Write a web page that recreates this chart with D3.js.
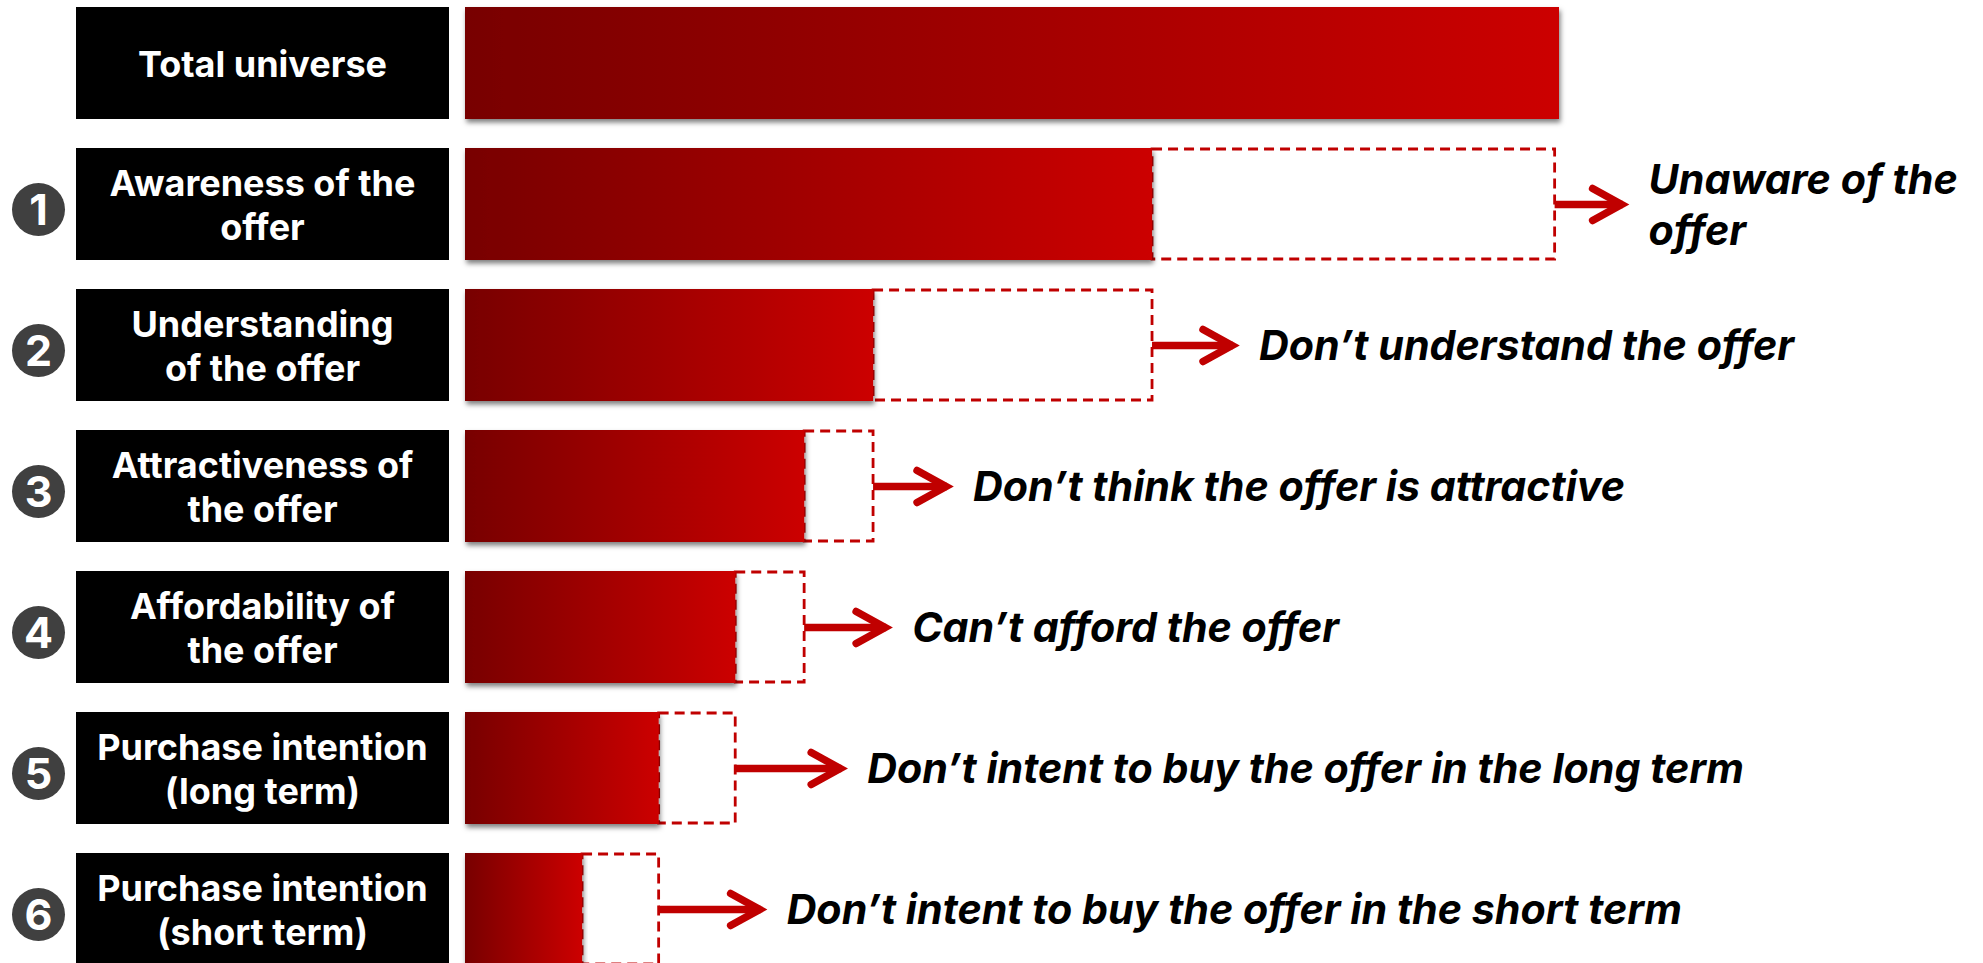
<!DOCTYPE html>
<html>
<head>
<meta charset="utf-8">
<style>
  html, body { margin: 0; padding: 0; background: #fff; }
  svg { display: block; }
  text { font-family: Inter, Lato, sans-serif; font-weight: 700; }
</style>
<script src="https://cdnjs.cloudflare.com/ajax/libs/d3/7.8.5/d3.min.js"></script>
</head>
<body>
<svg id="funnel" width="1983" height="963"></svg>
<script>
// Funnel stages, as a share of the total universe
const stages = [
  ["Total universe"],
  ["Awareness of the", "offer"],
  ["Understanding", "of the offer"],
  ["Attractiveness of", "the offer"],
  ["Affordability of", "the offer"],
  ["Purchase intention", "(long term)"],
  ["Purchase intention", "(short term)"]
];
const remaining = [100, 62.8, 37.3, 31.0, 24.7, 17.7, 10.7];
const lostFrom = [null, 99.6, 62.8, 37.3, 31.0, 24.7, 17.7];
const lostLabels = [
  null,
  ["Unaware of the", "offer"],
  ["Don\u2019t understand the offer"],
  ["Don\u2019t think the offer is attractive"],
  ["Can\u2019t afford the offer"],
  ["Don\u2019t intent to buy the offer in the long term"],
  ["Don\u2019t intent to buy the offer in the short term"]
];
const markers = ["", "1", "2", "3", "4", "5", "6"];

// Layout
const rowStep = 141, rowHeight = 112, firstRow = 7;
const rowBand = d3.scaleLinear().domain([0, 1]).range([firstRow, firstRow + rowStep]);
const x = d3.scaleLinear().domain([0, 100]).range([465, 1559]);
const arrowLengths = [0, 73, 86, 79, 87, 111, 107];
const labelGap = 21;
const red = "#c00000";

const svg = d3.select("#funnel");
const defs = svg.append("defs");

const grad = defs.append("linearGradient").attr("id", "barFill");
grad.append("stop").attr("offset", 0).attr("stop-color", "#780000");
grad.append("stop").attr("offset", 1).attr("stop-color", "#cc0000");

const shadow = defs.append("filter").attr("id", "barShadow")
  .attr("x", "-5%").attr("y", "-10%").attr("width", "110%").attr("height", "125%");
shadow.append("feDropShadow")
  .attr("dx", 1.5).attr("dy", 3.5).attr("stdDeviation", 2.5)
  .attr("flood-color", "#000").attr("flood-opacity", 0.5);

const rows = stages.map((lines, i) => ({
  lines, i,
  value: remaining[i],
  from: lostFrom[i],
  label: lostLabels[i],
  marker: markers[i],
  top: rowBand(i)
}));

const row = svg.selectAll("g.row").data(rows).join("g").attr("class", "row");

// Black stage name boxes
row.append("rect")
  .attr("x", 76).attr("width", 373)
  .attr("y", d => d.top).attr("height", rowHeight)
  .attr("fill", "#000");

row.append("text")
  .attr("text-anchor", "middle")
  .attr("fill", "#fff")
  .attr("font-size", 36)
  .selectAll("tspan").data(d => d.lines.map((t, k) => ({ t, k, d }))).join("tspan")
  .attr("x", 262.5)
  .attr("y", p => p.d.top + rowHeight / 2 + 14 + (p.k - (p.d.lines.length - 1) / 2) * 44.5)
  .text(p => p.t);

// Dashed outline of the share lost at each stage
const lossRows = row.filter(d => d.from !== null);
lossRows.append("rect")
  .attr("x", d => x(d.value))
  .attr("width", d => x(d.from) - x(d.value))
  .attr("y", d => d.top + 1)
  .attr("height", rowHeight - 2)
  .attr("fill", "#fff")
  .attr("stroke", red)
  .attr("stroke-width", 2.8)
  .attr("stroke-dasharray", "10 6");

// Remaining share
row.append("rect")
  .attr("x", x(0))
  .attr("width", d => x(d.value) - x(0))
  .attr("y", d => d.top)
  .attr("height", rowHeight)
  .attr("fill", "url(#barFill)")
  .attr("filter", "url(#barShadow)");

// Numbered discs
const disc = lossRows.append("g")
  .attr("transform", d => `translate(38.5,${d.top + rowHeight / 2 + 5.5})`);
disc.append("circle").attr("r", 26.5).attr("fill", "#404040");
disc.append("text")
  .attr("text-anchor", "middle").attr("y", 15.5)
  .attr("font-size", 43).attr("font-weight", 800).attr("fill", "#fff")
  .text(d => d.marker);

// Arrows from the outline to the label
const arrow = lossRows.append("g")
  .attr("transform", d => `translate(${x(d.from)},${d.top + rowHeight / 2 + 0.5})`)
  .attr("fill", "none").attr("stroke", red).attr("stroke-width", 7.5);
arrow.append("line")
  .attr("x2", d => arrowLengths[d.i] - 5);
arrow.append("path")
  .attr("stroke-linecap", "round").attr("stroke-linejoin", "miter")
  .attr("d", d => {
    const tip = arrowLengths[d.i] - 6;
    return d3.line()([[tip - 29, -16], [tip, 0], [tip - 29, 16]]);
  });

// Labels naming the lost share
lossRows.append("text")
  .attr("fill", "#000")
  .attr("font-size", 41.2)
  .attr("font-weight", 800)
  .attr("font-style", "italic")
  .selectAll("tspan").data(d => d.label.map((t, k) => ({ t, k, d }))).join("tspan")
  .attr("x", p => x(p.d.from) + arrowLengths[p.d.i] + labelGap)
  .attr("y", p => p.d.top + rowHeight / 2 + 15 + (p.k - (p.d.label.length - 1) / 2) * 51)
  .text(p => p.t);
</script>
</body>
</html>
